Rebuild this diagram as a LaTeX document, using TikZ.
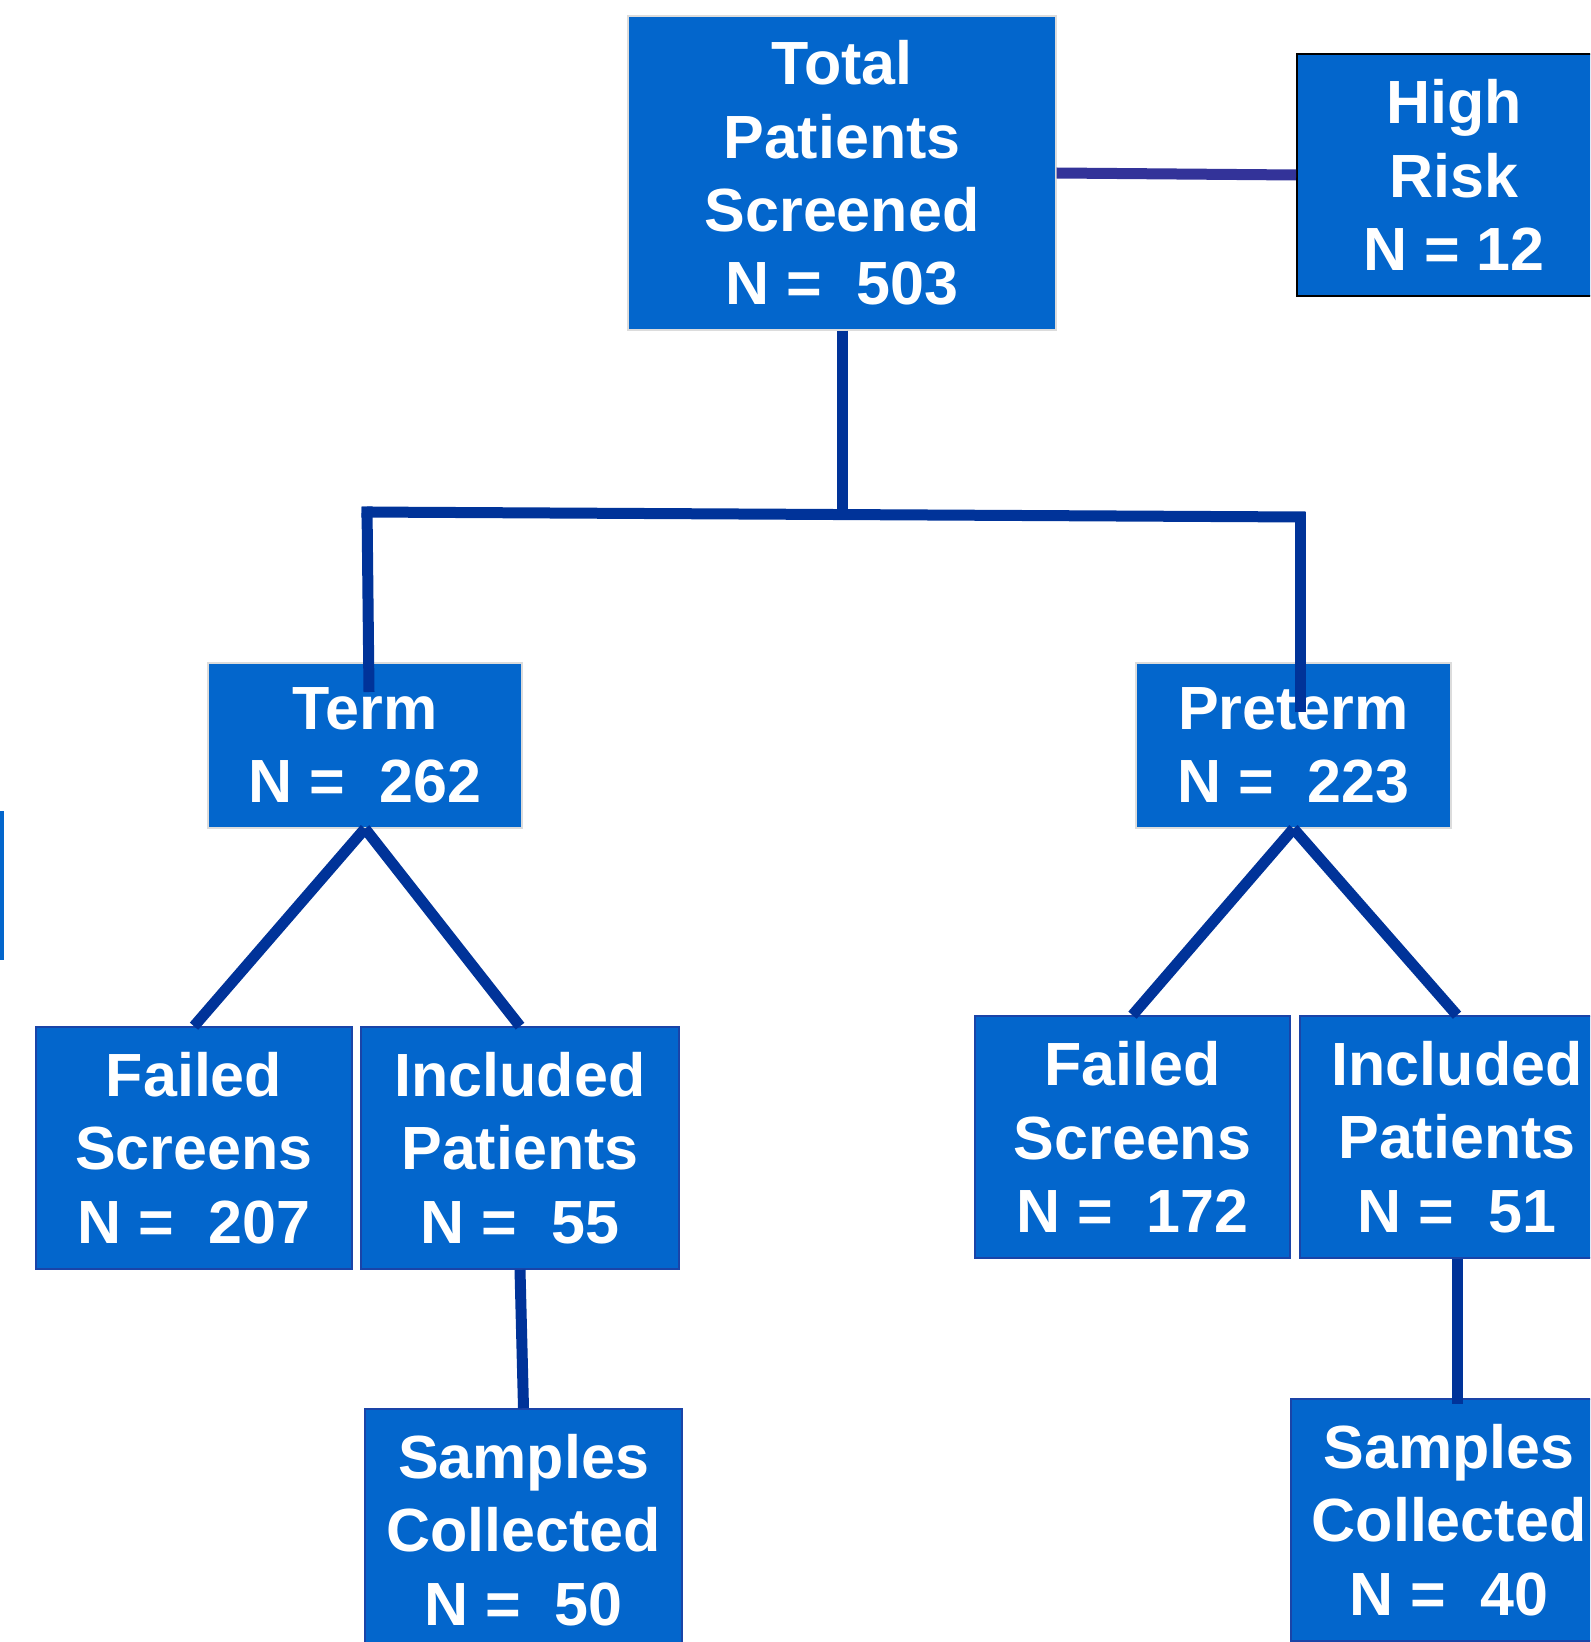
\documentclass[tikz,border=0pt]{standalone}
\usepackage{fontspec}
\setmainfont{Liberation Sans}
\definecolor{boxblue}{HTML}{0366CC}
\definecolor{linkblue}{HTML}{003399}
\definecolor{linkpurple}{HTML}{333399}
\definecolor{edgegrey}{HTML}{DCDCDC}
\definecolor{edgeblue}{HTML}{1A44A8}
\begin{document}
\begin{tikzpicture}[x=0.5pt,y=-0.5pt,
  box/.style={rectangle, fill=boxblue, text=white,
    font=\bfseries\fontsize{30.5pt}{36.6pt}\selectfont,
    align=center, inner sep=0pt},
  lightbox/.style={box, draw=edgegrey, line width=0.6pt},
  darkbox/.style={box, draw=edgeblue, line width=0.8pt},
  riskbox/.style={box, draw=black, line width=1pt},
  link/.style={draw=linkblue, line width=5.5pt},
  sidelink/.style={draw=linkpurple, line width=5.5pt}]
\useasboundingbox (0,0) rectangle (1590,1642);
\clip (0,0) rectangle (1590,1642);

% boxes
\node[lightbox, minimum width=214pt, minimum height=157pt] (total) at (842,173)
  {Total\\Patients\\Screened\\N =\ \ 503};
\node[riskbox, minimum width=157pt, minimum height=121pt] (high) at (1454,175)
  {High\\Risk\\N = 12};
\node[lightbox, minimum width=157pt, minimum height=82.5pt] (term) at (365,745.5)
  {Term\\N =\ \ 262};
\node[lightbox, minimum width=157.5pt, minimum height=82.5pt] (preterm) at (1293.5,745.5)
  {Preterm\\N =\ \ 223};
\node[darkbox, minimum width=158pt, minimum height=121pt] (failL) at (194,1148)
  {Failed\\Screens\\N =\ \ 207};
\node[darkbox, minimum width=159pt, minimum height=121pt] (incL) at (520,1148)
  {Included\\Patients\\N =\ \ 55};
\node[darkbox, minimum width=158.5pt, minimum height=121pt] (sampL) at (523.5,1530)
  {Samples\\Collected\\N =\ \ 50};
\node[darkbox, minimum width=157.5pt, minimum height=121pt] (failR) at (1132.5,1137)
  {Failed\\Screens\\N =\ \ 172};
\node[darkbox, minimum width=157pt, minimum height=121pt] (incR) at (1457,1137)
  {Included\\Patients\\N =\ \ 51};
\node[darkbox, minimum width=158pt, minimum height=121pt] (sampR) at (1449,1520)
  {Samples\\Collected\\N =\ \ 40};

% junction points
\coordinate (jM) at (842,514);
\coordinate (jL) at (367,512);
\coordinate (jR) at (1300,517);
\coordinate (termIn) at (369,692);
\coordinate (pretIn) at (1300,712);

% connectors
\draw[sidelink] (total.east) -- (high.west);
\draw[link] (total.south) -- (jM);
\draw[link] ([xshift=-2.75pt]jL) -- ([xshift=2.75pt]jR);
\draw[link] ([yshift=2.75pt]jL) -- (termIn);
\draw[link] ([yshift=2.75pt]jR) -- (pretIn);
\draw[link] (term.south) -- (failL.north);
\draw[link] (term.south) -- (incL.north);
\draw[link] (preterm.south) -- (failR.north);
\draw[link] (preterm.south) -- (incR.north);
\draw[link] (incL.south) -- (sampL.north);
\draw[link] (incR.south) -- ([yshift=-3pt]incR.south |- sampR.north);

% stray bar at the left edge
\fill[boxblue] (0,811) rectangle (4,960);
\end{tikzpicture}
\end{document}
